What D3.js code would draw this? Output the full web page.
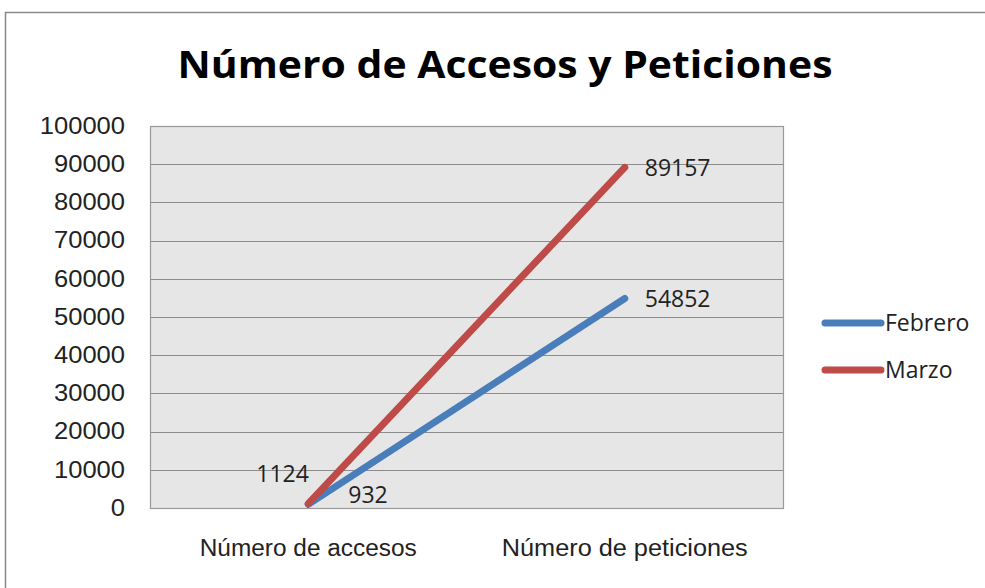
<!DOCTYPE html>
<html lang="es">
<head>
<meta charset="UTF-8">
<title>Número de Accesos y Peticiones</title>
<script src="https://d3js.org/d3.v7.min.js"></script>
<style>
  body { margin: 0; background: white; }
  svg { display: block; font-family: "Open Sans", "Noto Sans", sans-serif; }
  .tick text { font-size: 23px; fill: #222; }
  .lbl { font-size: 23px; fill: #222; }
</style>
</head>
<body>
<svg width="985" height="588"></svg>
<script>
const categories = ["Número de accesos", "Número de peticiones"];
const febrero = [932, 54852];
const marzo = [1124, 89157];
const yTicks = [0, 10000, 20000, 30000, 40000, 50000, 60000, 70000, 80000, 90000, 100000];

const series = [
  { name: "Febrero", values: febrero, color: "#4a7ebb" },
  { name: "Marzo", values: marzo, color: "#be4b48" }
];

const svg = d3.select("svg");
const plot = { left: 150, top: 126, right: 783, bottom: 508 };

// outer frame
svg.append("rect")
  .attr("x", 5.5).attr("y", 12.5)
  .attr("width", 1000).attr("height", 600)
  .attr("fill", "none").attr("stroke", "#8a8a8a").attr("stroke-width", 1.5);

svg.append("text")
  .attr("x", 505).attr("y", 78)
  .attr("text-anchor", "middle")
  .attr("font-size", 38).attr("font-weight", "bold")
  .attr("textLength", 655).attr("lengthAdjust", "spacingAndGlyphs")
  .text("Número de Accesos y Peticiones");

const x = d3.scaleBand().domain(categories).range([plot.left, plot.right]);
const y = d3.scaleLinear().domain([0, 100000]).range([plot.bottom, plot.top]);

svg.append("rect")
  .attr("x", plot.left).attr("y", plot.top)
  .attr("width", plot.right - plot.left).attr("height", plot.bottom - plot.top)
  .attr("fill", "#e6e6e6");

svg.append("g")
  .selectAll("line")
  .data(yTicks)
  .join("line")
  .attr("x1", plot.left).attr("x2", plot.right)
  .attr("y1", d => Math.round(y(d)) + 0.5).attr("y2", d => Math.round(y(d)) + 0.5)
  .attr("stroke", "#8c8c8c").attr("stroke-width", 1.2);

svg.append("rect")
  .attr("x", plot.left + 0.5).attr("y", plot.top + 0.5)
  .attr("width", plot.right - plot.left).attr("height", plot.bottom - plot.top)
  .attr("fill", "none").attr("stroke", "#999").attr("stroke-width", 1.2);

const yAxis = svg.append("g")
  .attr("transform", `translate(${plot.left},0)`)
  .call(d3.axisLeft(y).tickValues(yTicks).tickFormat(d3.format("d")).tickSize(0).tickPadding(25));
yAxis.select(".domain").remove();
yAxis.selectAll("text").attr("textLength", d => String(d).length * 14.2).attr("lengthAdjust", "spacingAndGlyphs");

const xAxis = svg.append("g")
  .attr("transform", `translate(0,${plot.bottom})`)
  .call(d3.axisBottom(x).tickSize(0).tickPadding(32));
xAxis.select(".domain").remove();
xAxis.selectAll("text")
  .attr("textLength", (d, i) => i === 0 ? 217 : 246)
  .attr("lengthAdjust", "spacingAndGlyphs");

const line = d3.line()
  .x((d, i) => x(categories[i]) + x.bandwidth() / 2)
  .y(d => y(d));

svg.append("g")
  .selectAll("path")
  .data(series)
  .join("path")
  .attr("d", d => line(d.values))
  .attr("fill", "none")
  .attr("stroke", d => d.color)
  .attr("stroke-width", 7)
  .attr("stroke-linecap", "round");

// data labels
const cx = i => x(categories[i]) + x.bandwidth() / 2;
svg.append("text").attr("class", "lbl").attr("x", cx(0) - 52).attr("y", y(marzo[0]) - 22).text(marzo[0]);
svg.append("text").attr("class", "lbl").attr("x", cx(0) + 40).attr("y", y(febrero[0]) - 1).text(febrero[0]);
svg.append("text").attr("class", "lbl").attr("x", cx(1) + 20).attr("y", y(marzo[1]) + 9).text(marzo[1]);
svg.append("text").attr("class", "lbl").attr("x", cx(1) + 20).attr("y", y(febrero[1]) + 9).text(febrero[1]);

const legend = svg.append("g").attr("transform", "translate(822,323)");
legend.selectAll("g")
  .data(series)
  .join("g")
  .attr("transform", (d, i) => `translate(0,${i * 47})`)
  .each(function (d) {
    const g = d3.select(this);
    g.append("line").attr("x1", 3).attr("x2", 59)
      .attr("stroke", d.color).attr("stroke-width", 7).attr("stroke-linecap", "round");
    g.append("text").attr("class", "lbl").attr("x", 63).attr("y", 8).text(d.name);
  });
</script>
</body>
</html>
